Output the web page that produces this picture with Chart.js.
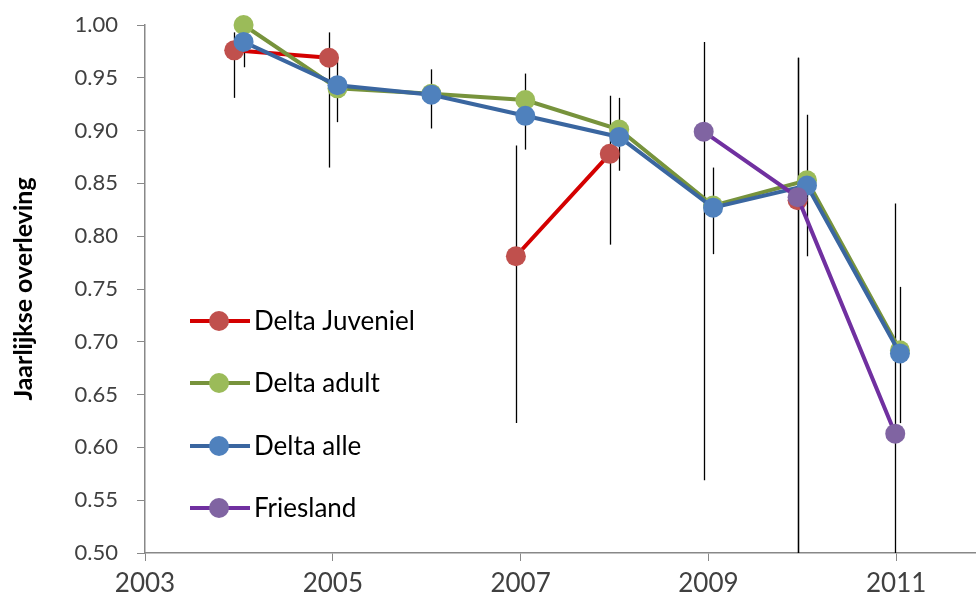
<!DOCTYPE html>
<html>
<head>
<meta charset="utf-8">
<script src="https://cdn.jsdelivr.net/npm/chart.js@4"></script>
<style>
  html, body { margin: 0; padding: 0; background: #fff; }
  #wrap { width: 976px; height: 603px; }
</style>
</head>
<body>
<div id="wrap"><canvas id="c" width="976" height="603"></canvas></div>
<script>
// Annual survival estimates with 95% intervals (null = no estimate that year)
const xTicks = [2003, 2005, 2007, 2009, 2011];
const yTicks = [0.50, 0.55, 0.60, 0.65, 0.70, 0.75, 0.80, 0.85, 0.90, 0.95, 1.00];

const juvX  = [2003.95, 2004.96, 2005.95, 2006.95, 2007.95, 2008.95, 2009.95];
const juvY  = [0.976, 0.969, null, 0.781, 0.878, null, 0.834];
const juvLo = [0.931, 0.865, null, 0.623, 0.792, null, 0.400];
const juvHi = [0.993, 0.993, null, 0.886, 0.933, null, 0.969];

const adultX = [2004.05, 2005.05, 2006.05, 2007.05, 2008.05, 2009.05, 2010.05, 2011.04];
const adultY = [1.000, 0.940, 0.935, 0.929, 0.901, 0.829, 0.853, 0.692];

const alleX  = [2004.05, 2005.05, 2006.05, 2007.05, 2008.05, 2009.05, 2010.05, 2011.04];
const alleY  = [0.984, 0.943, 0.934, 0.914, 0.894, 0.827, 0.848, 0.689];
const alleLo = [0.960, 0.908, 0.902, 0.882, 0.862, 0.783, 0.781, 0.623];
const alleHi = [0.995, 0.965, 0.958, 0.954, 0.931, 0.865, 0.915, 0.752];

const frX  = [2008.95, 2009.95, 2010.99];
const frY  = [0.899, 0.837, 0.613];
const frLo = [0.569, 0.400, 0.400];
const frHi = [0.984, 0.969, 0.831];

const yTitle = 'Jaarlijkse overleving';
const FONT = 'Lato, "Open Sans", sans-serif';

const pts = (xs, ys) => xs.map((x, i) => ({ x: x, y: ys[i] }));

function series(label, xs, ys, line, fill, order, lo, hi) {
  return {
    label: label,
    data: pts(xs, ys),
    borderColor: line,
    backgroundColor: fill,
    pointBackgroundColor: fill,
    pointBorderColor: fill,
    pointBorderWidth: 0,
    pointRadius: 10,
    pointHoverRadius: 10,
    borderWidth: 4,
    showLine: true,
    spanGaps: false,
    tension: 0,
    clip: false,
    order: order,
    errLo: lo,
    errHi: hi
  };
}

// vertical interval lines, drawn beneath the series
const errorBars = {
  id: 'errorBars',
  beforeDatasetsDraw(chart) {
    const { ctx, chartArea, scales } = chart;
    const xs = scales.x, ys = scales.y;
    ctx.save();
    ctx.beginPath();
    ctx.rect(chartArea.left, chartArea.top - 40, chartArea.right - chartArea.left, chartArea.bottom - chartArea.top + 40);
    ctx.clip();
    ctx.strokeStyle = '#000';
    ctx.lineWidth = 1.3;
    chart.data.datasets.forEach(ds => {
      if (!ds.errLo) return;
      ds.data.forEach((p, i) => {
        if (p.y === null || ds.errLo[i] === null) return;
        const px = Math.round(xs.getPixelForValue(p.x)) + 0.5;
        const top = ys.getPixelForValue(ds.errHi[i]);
        const bot = Math.min(ys.getPixelForValue(ds.errLo[i]), chartArea.bottom);
        ctx.beginPath();
        ctx.moveTo(px, top);
        ctx.lineTo(px, bot);
        ctx.stroke();
      });
    });
    ctx.restore();
  }
};

// rotated axis title and in-plot legend
const extras = {
  id: 'extras',
  afterDraw(chart) {
    const ctx = chart.ctx;
    const ca = chart.chartArea;
    ctx.save();
    ctx.translate(24, (ca.top + ca.bottom) / 2);
    ctx.rotate(-Math.PI / 2);
    ctx.font = 'bold 25px ' + FONT;
    ctx.fillStyle = '#000';
    ctx.textAlign = 'center';
    ctx.textBaseline = 'middle';
    ctx.fillText(yTitle, 0, 0);
    ctx.restore();

    const rows = [321, 383, 446, 508];
    ctx.save();
    ctx.font = '26px ' + FONT;
    ctx.textBaseline = 'middle';
    ctx.textAlign = 'left';
    chart.data.datasets.forEach((ds, i) => {
      const y = rows[i];
      ctx.strokeStyle = ds.borderColor;
      ctx.lineWidth = 4;
      ctx.beginPath();
      ctx.moveTo(190, y);
      ctx.lineTo(250, y);
      ctx.stroke();
      ctx.fillStyle = ds.pointBackgroundColor;
      ctx.beginPath();
      ctx.arc(219, y, 10, 0, Math.PI * 2);
      ctx.fill();
      ctx.fillStyle = '#000';
      ctx.fillText(ds.label, 254, y + 1);
    });
    ctx.restore();
  }
};

new Chart(document.getElementById('c'), {
  type: 'scatter',
  data: {
    datasets: [
      series('Delta Juveniel', juvX, juvY, '#D40000', '#C0504D', 4, juvLo, juvHi),
      series('Delta adult', adultX, adultY, '#77933C', '#9BBB59', 3),
      series('Delta alle', alleX, alleY, '#3A66A0', '#4F81BD', 2, alleLo, alleHi),
      series('Friesland', frX, frY, '#7030A0', '#8064A2', 1, frLo, frHi)
    ]
  },
  options: {
    responsive: false,
    animation: false,
    layout: { autoPadding: false, padding: { top: 25, right: 0, left: 0, bottom: 0 } },
    plugins: { legend: { display: false }, tooltip: { enabled: false } },
    scales: {
      x: {
        type: 'linear',
        min: 2003,
        max: 2011.85,
        afterFit: s => { s.height = 50; s.paddingLeft = 0; s.paddingRight = 0; },
        afterBuildTicks: s => { s.ticks = xTicks.map(v => ({ value: v })); },
        border: { color: '#888888', width: 1.5 },
        grid: { display: true, drawOnChartArea: false, drawTicks: true, tickLength: 8, color: '#888888', tickColor: '#888888' },
        ticks: { color: '#404040', font: { family: FONT, size: 26 }, padding: 7, maxRotation: 0, autoSkip: false, callback: v => String(v) }
      },
      y: {
        min: 0.5,
        max: 1.0,
        afterFit: s => { s.width = 145; s.paddingTop = 0; s.paddingBottom = 0; },
        afterBuildTicks: s => { s.ticks = yTicks.map(v => ({ value: v })); },
        border: { color: '#888888', width: 1.5 },
        grid: { display: true, drawOnChartArea: false, drawTicks: true, tickLength: 8, color: '#888888', tickColor: '#888888' },
        ticks: { color: '#404040', font: { family: FONT, size: 22 }, padding: 19, callback: v => v.toFixed(2) }
      }
    }
  },
  plugins: [errorBars, extras]
});
</script>
</body>
</html>
